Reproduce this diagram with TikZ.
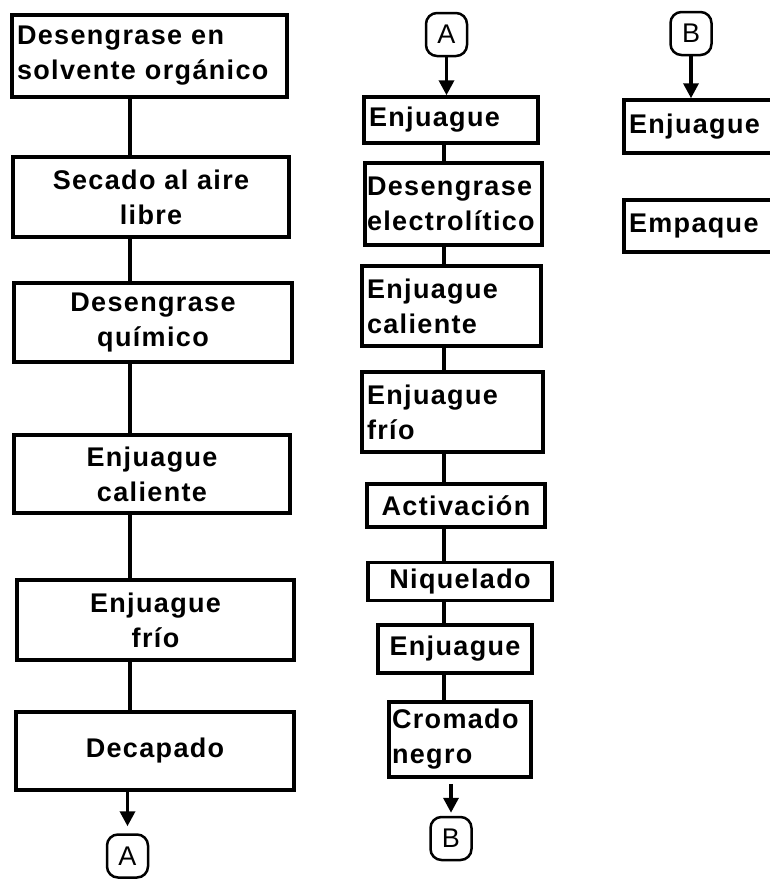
\documentclass[tikz,border=0pt]{standalone}
\usepackage{fontspec}
\setmainfont[LetterSpace=5]{Liberation Sans}
\usetikzlibrary{arrows.meta}

\begin{document}
\begin{tikzpicture}[x=1pt, y=-1pt,
    every node/.style={font=\fontsize{27}{35}\selectfont\bfseries},
    proc/.style={draw, line width=3.5pt, inner xsep=5pt, inner ysep=2pt},
    lproc/.style={proc, align=left, text width=#1},
    cproc/.style={proc, align=center},
    conn/.style={draw, line width=2.5pt, rounded corners=11pt, minimum width=41pt,
      minimum height=43pt, inner sep=0pt, font=\fontsize{27}{35}\selectfont},
    link/.style={line width=3.5pt},
    flow/.style={line width=3.5pt, -{Triangle[width=15pt,length=15pt]}}]
    \clip (0,0) rectangle (770,879);
    % first column
    \node[lproc=265pt, minimum height=82pt] (L1) at (149.5,56) {Desengrase en\\solvente orgánico};
    \node[cproc, minimum width=276pt, minimum height=80pt] (L2) at (151,197) {Secado al aire\\libre};
    \node[cproc, minimum width=278pt, minimum height=79pt] (L3) at (153,322.5) {Desengrase\\químico};
    \node[cproc, minimum width=276pt, minimum height=78pt] (L4) at (152,474) {Enjuague\\caliente};
    \node[cproc, minimum width=277pt, minimum height=80pt] (L5) at (155.5,620) {Enjuague\\frío};
    \node[cproc, minimum width=278pt, minimum height=78pt] (L6) at (155,751) {Decapado};
    \node[conn] (A1) at (127.5,856) {A};
    \coordinate (lx) at (130,0);
    \foreach \a/\b in {L1/L2, L2/L3, L3/L4, L4/L5, L5/L6}
      \draw[link] (\a.south -| lx) -- (\b.north -| lx);
    \draw[flow, shorten >=7pt] (L6.south -| A1) -- (A1.north);

    % second column
    \node[conn] (A2) at (446.5,34.5) {A};
    \node[lproc=164pt, minimum height=46pt] (M1) at (451,120) {Enjuague};
    \node[lproc=173pt, minimum height=82pt, inner xsep=2pt] (M2) at (453.5,204) {Desengrase\\electrolítico};
    \node[lproc=169pt, minimum height=80pt] (M3) at (451.5,306) {Enjuague\\caliente};
    \node[lproc=171pt, minimum height=80pt] (M4) at (452.5,412) {Enjuague\\frío};
    \node[cproc, minimum width=178pt, minimum height=43pt] (M5) at (456,505.5) {Activación};
    \node[cproc, minimum width=184pt, minimum height=38pt] (M6) at (460,581.5) {Niquelado};
    \node[cproc, minimum width=154pt, minimum height=48pt] (M7) at (455,649) {Enjuague};
    \node[lproc=136pt, minimum height=75pt, inner xsep=3pt] (M8) at (460,739.5) {Cromado\\negro};
    \node[conn] (B1) at (451,838.5) {B};
    \coordinate (mx) at (444,0);
    \draw[flow] (A2) -- (M1.north -| A2);
    \foreach \a/\b in {M1/M2, M2/M3, M3/M4, M4/M5, M5/M6, M6/M7, M7/M8}
      \draw[link] (\a.south -| mx) -- (\b.north -| mx);
    \draw[flow, shorten >=3pt] ([yshift=-5pt]M8.south -| B1) -- (B1.north);

    % third column
    \node[conn] (B2) at (691,33.5) {B};
    \node[lproc=156pt, minimum height=53pt] (R1) at (707,126.5) {Enjuague};
    \node[lproc=156pt, minimum height=52pt] (R2) at (707,226) {Empaque};
    \draw[flow] (B2) -- (R1.north -| B2);
  \end{tikzpicture}
\end{document}
